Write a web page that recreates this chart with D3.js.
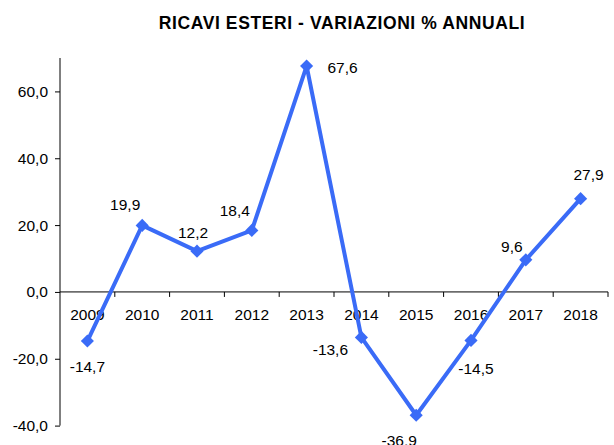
<!DOCTYPE html>
<html>
<head>
  <meta charset="utf-8">
  <script src="https://d3js.org/d3.v7.min.js"></script>
  <style>
    body { margin:0; background:#fff; }
    text { font-family: "Liberation Sans", Arial, sans-serif; fill:#000; }
  </style>
</head>
<body>
  <script>
    // dati
    var years = ["2009","2010","2011","2012","2013","2014","2015","2016","2017","2018"];
    var values = [-14.7, 19.9, 12.2, 18.4, 67.6, -13.6, -36.9, -14.5, 9.6, 27.9];
    var yTicks = [-40, -20, 0, 20, 40, 60];
    // spostamento delle etichette rispetto al punto (dx, dy)
    var labelShift = [[0,26],[-17,-21],[-4,-19],[-17,-20],[36,2],[-31,12],[-17,25],[5,28],[-14,-13],[8,-24]];

    var W = 614, H = 445;
    var plotL = 60, plotR = 608, plotT = 58, plotB = 425.6;
    var fs = "15.5px";

    var svg = d3.select("body").append("svg")
      .attr("width", W)
      .attr("height", H);

    var fmt = function(v){ return d3.format(".1f")(v).replace(".", ",").replace("−","-"); };

    var x = d3.scaleBand().domain(years).range([plotL, plotR]);
    var y = d3.scaleLinear().domain([-40, 70]).range([plotB, plotT]);

    // titolo
    svg.append("text")
      .attr("x", 342).attr("y", 29)
      .attr("text-anchor", "middle")
      .attr("font-size", "17.5px")
      .attr("font-weight", "bold")
      .attr("letter-spacing", "0.6px")
      .text("RICAVI ESTERI - VARIAZIONI % ANNUALI");

    // asse y
    var yAxis = svg.append("g")
      .attr("transform", "translate(" + plotL + ",0)")
      .call(d3.axisLeft(y).tickValues(yTicks).tickSize(5).tickPadding(7).tickFormat(fmt));
    yAxis.select(".domain").attr("d", "M0," + plotT + "V" + plotB).attr("stroke", "#000");
    yAxis.selectAll(".tick line").attr("stroke", "#000");
    yAxis.selectAll("text").attr("font-size", fs).attr("font-family", "Liberation Sans, Arial, sans-serif");

    // asse x sullo zero
    var xAxis = svg.append("g")
      .attr("transform", "translate(0," + y(0) + ")")
      .call(d3.axisBottom(x).tickSize(0).tickPadding(17));
    xAxis.select(".domain").attr("d", "M" + plotL + ",0H" + plotR).attr("stroke", "#000");
    xAxis.selectAll("text").attr("font-size", fs).attr("font-family", "Liberation Sans, Arial, sans-serif");
    // tacche tra le categorie
    xAxis.selectAll("line.sep")
      .data(years)
      .enter().append("line")
      .attr("class", "sep")
      .attr("x1", function(d){ return x(d) + x.bandwidth(); })
      .attr("x2", function(d){ return x(d) + x.bandwidth(); })
      .attr("y1", 0).attr("y2", 5)
      .attr("stroke", "#000");

    var cx = function(i){ return x(years[i]) + x.bandwidth() / 2; };

    // linea
    var line = d3.line()
      .x(function(d, i){ return cx(i); })
      .y(function(d){ return y(d); });

    svg.append("path")
      .datum(values)
      .attr("d", line)
      .attr("fill", "none")
      .attr("stroke", "#3a6bf7")
      .attr("stroke-width", 4)
      .attr("stroke-linejoin", "round");

    // marcatori a rombo
    svg.selectAll("path.mk")
      .data(values)
      .enter().append("path")
      .attr("class", "mk")
      .attr("d", d3.symbol().type(d3.symbolDiamond2).size(110))
      .attr("transform", function(d, i){ return "translate(" + cx(i) + "," + y(d) + ")"; })
      .attr("fill", "#3a6bf7");

    // etichette dei valori
    svg.selectAll("text.lbl")
      .data(values)
      .enter().append("text")
      .attr("class", "lbl")
      .attr("x", function(d, i){ return cx(i) + labelShift[i][0]; })
      .attr("y", function(d, i){ return y(d) + labelShift[i][1]; })
      .attr("dy", "0.35em")
      .attr("text-anchor", "middle")
      .attr("font-size", fs)
      .text(fmt);
  </script>
</body>
</html>
